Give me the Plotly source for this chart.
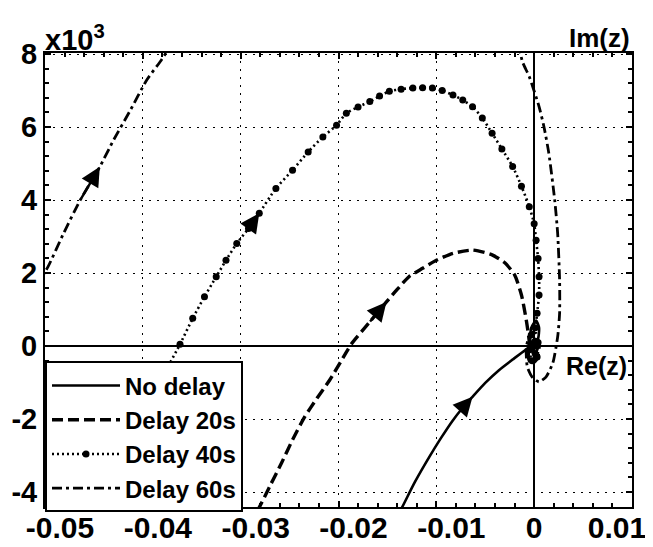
import plotly.graph_objects as go

# ---------------- data (Re(z), Im(z) in units of 10^3) ----------------
nodelay_re = [-0.0141, -0.0136, -0.0122, -0.0107, -0.0095, -0.0083, -0.0073, -0.0063,
              -0.0050, -0.0036, -0.0022, -0.0009, 0.0000, 0.0004, 0.0005, 0.0002,
              -0.0003, -0.0004, 0.0000, 0.0003, 0.0001, -0.0001, 0.0000]
nodelay_im = [-4.70, -4.47, -3.73, -3.03, -2.51, -2.03, -1.69, -1.39,
              -1.01, -0.66, -0.37, -0.11, 0.02, 0.20, 0.50, 0.70,
              0.50, 0.10, -0.30, -0.10, 0.20, 0.05, 0.00]

d20_re = [-0.0292, -0.0282, -0.0270, -0.0258, -0.0247, -0.0235, -0.0222, -0.0209,
          -0.0198, -0.0187, -0.0169, -0.0151, -0.0140, -0.0128, -0.0114, -0.0100,
          -0.0083, -0.0063, -0.0043, -0.0030, -0.0020, -0.0013, -0.0008, -0.0005,
          -0.0006, -0.0003, 0.0003, 0.0005, 0.0002, -0.0002, 0.0000]
d20_im = [-4.90, -4.47, -3.83, -3.19, -2.57, -1.96, -1.43, -0.93,
          -0.44, 0.05, 0.63, 1.21, 1.55, 1.90, 2.13, 2.35,
          2.54, 2.63, 2.50, 2.28, 1.95, 1.40, 0.70, 0.10,
          -0.30, -0.50, -0.35, 0.00, 0.25, 0.10, 0.00]

d40_re = [-0.0400, -0.0388, -0.0376, -0.0362, -0.0349, -0.0337, -0.0325, -0.0315,
          -0.0304, -0.0292, -0.0281, -0.0264, -0.0247, -0.0231, -0.0216, -0.0202,
          -0.0192, -0.0180, -0.0168, -0.0158, -0.0148, -0.0136, -0.0124, -0.0114,
          -0.0104, -0.0094, -0.0083, -0.0073, -0.0063, -0.0053, -0.0043, -0.0033,
          -0.0022, -0.0013, -0.0005, 0.0000, 0.0002, 0.0004, 0.0005, 0.0005,
          0.0003, 0.0001, -0.0003, -0.0005, -0.0002, 0.0003, 0.0004, 0.0000]
d40_im = [-2.20, -1.40, -0.66, 0.05, 0.76, 1.35, 1.90, 2.35,
          2.81, 3.22, 3.64, 4.32, 4.82, 5.32, 5.73, 6.05,
          6.38, 6.55, 6.70, 6.85, 6.98, 7.04, 7.07, 7.08,
          7.07, 7.00, 6.88, 6.74, 6.56, 6.25, 5.83, 5.40,
          4.92, 4.38, 3.82, 3.35, 2.90, 2.40, 1.90, 1.40,
          0.90, 0.50, 0.30, -0.10, -0.40, -0.30, 0.10, 0.00]

d60_re = [-0.0510, -0.0497, -0.0481, -0.0464, -0.0444, -0.0430, -0.0413, -0.0396,
          -0.0381, -0.0370, None, -0.0016, -0.0012, -0.0005, 0.0005, 0.0010,
          0.0015, 0.0021, 0.0024, 0.0026, 0.0026, 0.0024, 0.0019, 0.0012,
          0.0005, -0.0002, -0.0007, -0.0008, -0.0004, 0.0002, 0.0004, 0.0001, 0.0000]
d60_im = [1.60, 2.17, 3.09, 4.00, 4.91, 5.64, 6.45, 7.29,
          7.84, 8.30, None, 8.30, 7.79, 7.38, 6.56, 6.01,
          5.28, 4.00, 3.09, 1.81, 0.90, 0.25, -0.47, -0.85,
          -0.98, -0.85, -0.57, -0.02, 0.30, 0.35, 0.00, -0.20, 0.00]

series_names = ["No delay", "Delay 20s", "Delay 40s", "Delay 60s"]
arrow_index = [7, 11, 10, 4]   # index of the point the direction arrow sits on

x_tick_vals = [-0.05, -0.04, -0.03, -0.02, -0.01, 0, 0.01]
x_tick_text = ["-0.05", "-0.04", "-0.03", "-0.02", "-0.01", "0", "0.01"]
y_tick_vals = [-4, -2, 0, 2, 4, 6, 8]
y_tick_text = ["-4", "-2", "0", "2", "4", "6", "8"]

# ---------------- figure ----------------
FONT = "Liberation Sans, Arial, Helvetica, sans-serif"
all_re = [nodelay_re, d20_re, d40_re, d60_re]
all_im = [nodelay_im, d20_im, d40_im, d60_im]
styles = [
    dict(mode="lines", line=dict(color="black", width=2.6, dash="solid", shape="spline", smoothing=0.6)),
    dict(mode="lines", line=dict(color="black", width=3.4, dash="11px,5px", shape="spline", smoothing=0.6)),
    dict(mode="lines+markers", line=dict(color="black", width=2.6, dash="2px,3px", shape="spline", smoothing=0.6),
         marker=dict(symbol="circle", size=7, color="black")),
    dict(mode="lines", line=dict(color="black", width=2.8, dash="10px,4px,3px,4px", shape="spline", smoothing=0.6)),
]

fig = go.Figure()
for name, xr, yi, st in zip(series_names, all_re, all_im, styles):
    fig.add_trace(go.Scatter(x=xr, y=yi, name=name, connectgaps=False, **st))

# direction arrows along each locus
for xr, yi, k in zip(all_re, all_im, arrow_index):
    fig.add_annotation(x=xr[k], y=yi[k], ax=xr[k - 1], ay=yi[k - 1],
                       xref="x", yref="y", axref="x", ayref="y",
                       text="", showarrow=True, arrowhead=2, arrowsize=1.6,
                       arrowwidth=2.4, arrowcolor="black", standoff=0)

# padded tick text so labels sit like in the original
pad = "\u2003"
x_tick_disp = [(pad + t) if t.startswith("-") else (t + pad if t != "0" else t) for t in x_tick_text]

axis_common = dict(showline=True, linecolor="black", linewidth=2, mirror="allticks",
                   ticks="inside", ticklen=6, tickwidth=1.5, tickcolor="black",
                   showgrid=True, gridcolor="black", gridwidth=1.3, griddash="2px,6px",
                   zeroline=True, zerolinecolor="black", zerolinewidth=2.2,
                   automargin=False, tickangle=0, ticklabeloverflow="allow")

fig.update_xaxes(range=[-0.05, 0.01], tickvals=x_tick_vals, ticktext=x_tick_disp,
                 tickfont=dict(family=FONT, size=30, color="black", weight="bold"),
                 ticklabelstandoff=-7,
                 minor=dict(dtick=0.002, ticks="inside", ticklen=4, tickcolor="black", showgrid=False),
                 **axis_common)
fig.update_yaxes(range=[-4.41, 8.03], tickvals=y_tick_vals, ticktext=y_tick_text,
                 tickfont=dict(family=FONT, size=29, color="black", weight="bold"),
                 minor=dict(dtick=0.4, ticks="inside", ticklen=4, tickcolor="black", showgrid=False),
                 **axis_common)

fig.add_annotation(text="x10<sup>3</sup>", xref="paper", yref="paper", x=0, y=1,
                   xanchor="left", yanchor="bottom", xshift=-2, yshift=-5, showarrow=False,
                   font=dict(family=FONT, size=29, color="black", weight="bold"))
fig.add_annotation(text="Im(z)", xref="paper", yref="paper", x=1, y=1,
                   xanchor="right", yanchor="bottom", yshift=-2, showarrow=False,
                   font=dict(family=FONT, size=26, color="black", weight="bold"))
fig.add_annotation(text="Re(z)", xref="paper", yref="y", x=1, y=-0.55,
                   xanchor="right", yanchor="middle", xshift=-3, showarrow=False,
                   font=dict(family=FONT, size=25, color="black", weight="bold"))

# the page body has an 8px default margin, so the figure is 8px smaller
fig.update_layout(
    width=645, height=539,
    margin=dict(l=37, r=21, t=45, b=40),
    paper_bgcolor="white", plot_bgcolor="white",
    showlegend=True,
    legend=dict(x=0, y=-0.012, xanchor="left", yanchor="bottom",
                bgcolor="white", bordercolor="black", borderwidth=2,
                font=dict(family=FONT, size=24, color="black", weight="bold"),
                itemwidth=68, tracegroupgap=0),
)

fig.write_html("out.html")
